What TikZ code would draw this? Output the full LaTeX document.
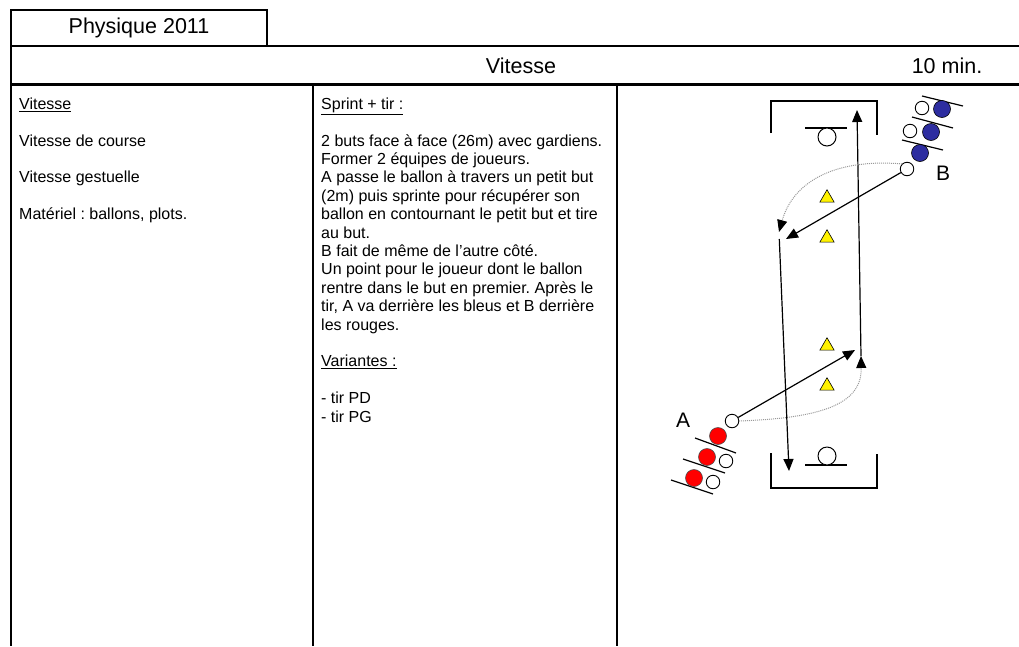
\documentclass[tikz,border=0pt]{standalone}
\usepackage{fontspec}
\setmainfont{Liberation Sans}
\usetikzlibrary{arrows.meta, shapes.geometric}
\definecolor{bleuJ}{RGB}{45,45,160}
\frenchspacing

\begin{document}
\begin{tikzpicture}[x=1pt, y=-1pt,
    frame/.style={line width=2.2pt},
    head/.style={font=\fontsize{21.5}{24}\selectfont, inner sep=0pt},
    body/.style={font=\fontsize{16}{18.4}\selectfont, align=left, anchor=north west, inner sep=0pt},
    goal/.style={line width=1.2pt},
    keeper/.style={circle, draw, line width=1pt, minimum size=18pt, inner sep=0pt, fill=white},
    ball/.style={circle, draw, line width=0.9pt, minimum size=13.5pt, inner sep=0pt, fill=white},
    redpl/.style={circle, draw=black!70, line width=0.6pt, fill=red, minimum size=17pt, inner sep=0pt},
    bluepl/.style={circle, draw=black, line width=0.6pt, fill=bleuJ, minimum size=17pt, inner sep=0pt},
    cone/.style={regular polygon, regular polygon sides=3, draw, fill=yellow, minimum size=16.5pt, inner sep=0pt, line width=0.6pt},
    pass/.style={-{Triangle[length=12pt,width=10pt]}, line width=1.2pt},
    run/.style={-{Triangle[length=12pt,width=10pt,color=black]}, densely dotted, draw=gray!80, line width=1pt},
    lbl/.style={font=\fontsize{21}{24}\selectfont, inner sep=0pt}
]
\useasboundingbox (0,0) rectangle (1019,646);

% Table frame
\draw[frame] (11,10) rectangle (267,46);
\draw[frame] (11,10) -- (11,646);
\draw[frame] (11,46) -- (1019,46);
\draw[frame] (11,84.5) -- (1019,84.5);
\draw[frame] (313,84.5) -- (313,646);
\draw[frame] (617,84.5) -- (617,646);

% Headers
\node[head] (title) at (139,28) {Physique 2011};
\node[head] (theme) at (521,66) {Vitesse};
\node[head] (duree) at (947,66) {10 min.};

% Left column
\node[body] (objectifs) at (19,97.5) {\underline{Vitesse}\\[18.4pt]
Vitesse de course\\[18.4pt]
Vitesse gestuelle\\[18.4pt]
Matériel : ballons, plots.};

% Middle column
\node[body] (consignes) at (321,97.5) {\underline{Sprint + tir :}\\[18.4pt]
2 buts face à face (26m) avec gardiens.\\
Former 2 équipes de joueurs.\\
A passe le ballon à travers un petit but\\
(2m) puis sprinte pour récupérer son\\
ballon en contournant le petit but et tire\\
au but.\\
B fait de même de l'autre côté.\\
Un point pour le joueur dont le ballon\\
rentre dans le but en premier. Après le\\
tir, A va derrière les bleus et B derrière\\
les rouges.\\[18.4pt]
\underline{Variantes :}\\[18.4pt]
- tir PD\\
- tir PG};

% Goals and keepers
\draw[goal] (771,133) |- (877,101) -- (877,135);
\draw[goal] (771,453) |- (877,488) -- (877,454);
\draw[goal] (805,128) -- (847,128);
\draw[goal] (805,465) -- (847,465);
\node[keeper] (gkTop) at (827,137) {};
\node[keeper] (gkBot) at (827,456) {};

% Cones
\node[cone] (c1) at (827,198) {};
\node[cone] (c2) at (827,238) {};
\node[cone] (c3) at (827,346) {};
\node[cone] (c4) at (827,386) {};

% Team A (red)
\draw[goal] (695,438) -- (736,453);
\draw[goal] (683,459) -- (725,473);
\draw[goal] (671,480) -- (713,494);
\node[redpl] (rA1) at (718,436) {};
\node[redpl] (rA2) at (707,457) {};
\node[redpl] (rA3) at (694,478) {};
\node[ball] (bA2) at (726,461) {};
\node[ball] (bA3) at (713,482) {};
\node[ball] (ballA) at (732,421) {};
\node[lbl] (labA) at (683,420) {A};

% Team B (blue)
\draw[goal] (922,96) -- (963,106);
\draw[goal] (912,117) -- (953,128);
\draw[goal] (902,140) -- (943,150);
\node[bluepl] (bB1) at (942,109) {};
\node[bluepl] (bB2) at (931,132) {};
\node[bluepl] (bB3) at (920,153) {};
\node[ball] (wB1) at (922,108) {};
\node[ball] (wB2) at (910,131) {};
\node[ball] (ballB) at (907,169) {};
\node[lbl] (labB) at (943,173) {B};

% Moves
\coordinate (aPass) at (855,350);
\coordinate (aTurn) at (861,356);
\coordinate (topAim) at (857,110);
\coordinate (bPass) at (786,239);
\coordinate (bTurn) at (779,232);
\coordinate (botAim) at (789,471);

\draw[pass] (ballA) -- (aPass);
\draw[run] (ballA.east) .. controls (820,418) and (862,405) .. (aTurn);
\draw[pass] (aTurn) -- (topAim);

\draw[pass] (ballB) -- (bPass);
\draw[run] (ballB.north west) .. controls (830,158) and (792,185) .. (bTurn);
\draw[pass, shorten <=7pt] (bTurn) -- (botAim);

\end{tikzpicture}
\end{document}
